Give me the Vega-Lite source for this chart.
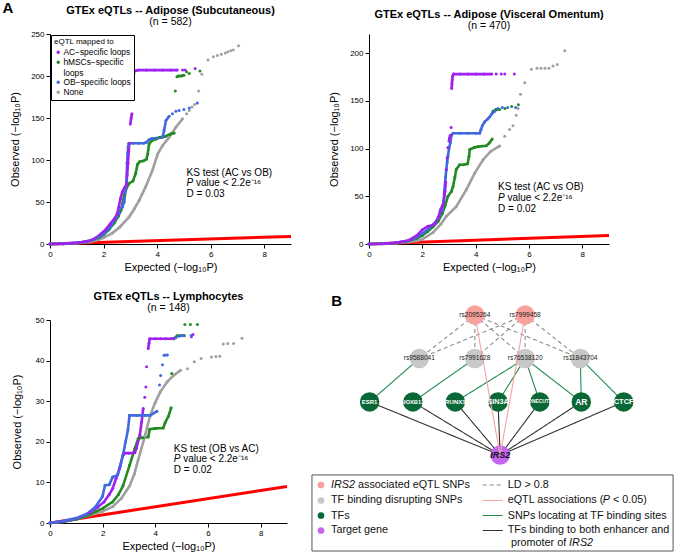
{
"$schema": "https://vega.github.io/schema/vega-lite/v6.json",
"background": "white",
"padding": {"left": 2, "top": 1, "right": 2, "bottom": 1},
"config": {
 "font": "Liberation Sans",
 "view": {"stroke": null},
 "axis": {"grid": false, "domainColor": "#000", "domainWidth": 1, "tickColor": "#000", "tickSize": 4, "labelColor": "#000", "labelFontSize": 8, "labelPadding": 2, "titleColor": "#000", "titleFontSize": 11, "titleFontWeight": "normal", "labelFlush": false},
 "title": {"fontSize": 11, "fontWeight": "bold", "color": "#000", "subtitleFontSize": 10.5, "subtitleColor": "#000", "anchor": "middle", "frame": "group", "offset": 3, "subtitlePadding": 1}
},
"datasets": {
 "p1": [
  {"g":"None","s":0,"x":0,"y":0},{"g":"None","s":0,"x":0.5,"y":0.3},{"g":"None","s":0,"x":1,"y":0.9},{"g":"None","s":0,"x":1.5,"y":2.5},{"g":"None","s":0,"x":1.8,"y":5},{"g":"None","s":0,"x":2,"y":7.5},{"g":"None","s":0,"x":2.33,"y":13},{"g":"None","s":0,"x":2.6,"y":20},{"g":"None","s":0,"x":2.95,"y":32},{"g":"None","s":0,"x":3.15,"y":42},{"g":"None","s":0,"x":3.33,"y":52},{"g":"None","s":0,"x":3.57,"y":68},{"g":"None","s":0,"x":3.83,"y":88},{"g":"None","s":0,"x":4.02,"y":107},{"g":"None","s":0,"x":4.2,"y":117},{"g":"None","s":0,"x":4.45,"y":127},{"g":"None","s":0,"x":4.7,"y":139},{"g":"None","s":0,"x":4.95,"y":149},
  {"g":"None","s":1,"x":5.1,"y":155},{"g":"None","s":2,"x":5.2,"y":159},{"g":"None","s":3,"x":5.3,"y":163},{"g":"None","s":4,"x":5.4,"y":166},{"g":"None","s":5,"x":5.55,"y":182},{"g":"None","s":6,"x":5.67,"y":202},{"g":"None","s":7,"x":5.9,"y":219},{"g":"None","s":8,"x":6.1,"y":223},{"g":"None","s":9,"x":6.25,"y":224.5},{"g":"None","s":10,"x":6.4,"y":226},{"g":"None","s":11,"x":6.55,"y":227.5},{"g":"None","s":12,"x":6.64,"y":229},{"g":"None","s":13,"x":6.75,"y":230},{"g":"None","s":14,"x":6.84,"y":231},{"g":"None","s":15,"x":7.04,"y":236},
  {"g":"hMSCs","s":0,"x":0,"y":0},{"g":"hMSCs","s":0,"x":0.5,"y":0.3},{"g":"hMSCs","s":0,"x":1,"y":1.1},{"g":"hMSCs","s":0,"x":1.5,"y":3.5},{"g":"hMSCs","s":0,"x":1.8,"y":7},{"g":"hMSCs","s":0,"x":2,"y":11},{"g":"hMSCs","s":0,"x":2.2,"y":17},{"g":"hMSCs","s":0,"x":2.4,"y":25},{"g":"hMSCs","s":0,"x":2.55,"y":33},{"g":"hMSCs","s":0,"x":2.65,"y":40},{"g":"hMSCs","s":0,"x":2.77,"y":58},{"g":"hMSCs","s":0,"x":2.85,"y":66},{"g":"hMSCs","s":0,"x":2.95,"y":72},{"g":"hMSCs","s":0,"x":3.1,"y":75},{"g":"hMSCs","s":0,"x":3.2,"y":84},{"g":"hMSCs","s":0,"x":3.27,"y":95},{"g":"hMSCs","s":0,"x":3.35,"y":98},{"g":"hMSCs","s":0,"x":3.5,"y":99},{"g":"hMSCs","s":0,"x":3.6,"y":101},{"g":"hMSCs","s":0,"x":3.65,"y":107},{"g":"hMSCs","s":0,"x":3.7,"y":119},{"g":"hMSCs","s":0,"x":3.8,"y":123},{"g":"hMSCs","s":0,"x":3.95,"y":125},{"g":"hMSCs","s":0,"x":4.1,"y":127},{"g":"hMSCs","s":0,"x":4.3,"y":128},{"g":"hMSCs","s":0,"x":4.5,"y":131},{"g":"hMSCs","s":0,"x":4.64,"y":132},
  {"g":"hMSCs","s":1,"x":4.68,"y":182},{"g":"hMSCs","s":2,"x":4.74,"y":199},{"g":"hMSCs","s":2,"x":4.8,"y":200},{"g":"hMSCs","s":2,"x":4.9,"y":200},{"g":"hMSCs","s":2,"x":5,"y":201},{"g":"hMSCs","s":3,"x":5.1,"y":205},{"g":"hMSCs","s":4,"x":5.2,"y":203},{"g":"hMSCs","s":5,"x":5.6,"y":206},
  {"g":"OB","s":0,"x":0,"y":0},{"g":"OB","s":0,"x":0.5,"y":0.4},{"g":"OB","s":0,"x":1,"y":1.3},{"g":"OB","s":0,"x":1.5,"y":4},{"g":"OB","s":0,"x":1.8,"y":8},{"g":"OB","s":0,"x":2,"y":12},{"g":"OB","s":0,"x":2.2,"y":18},{"g":"OB","s":0,"x":2.35,"y":25},{"g":"OB","s":0,"x":2.5,"y":32},{"g":"OB","s":0,"x":2.6,"y":38},{"g":"OB","s":0,"x":2.7,"y":44},{"g":"OB","s":0,"x":2.77,"y":50},{"g":"OB","s":0,"x":2.83,"y":66},{"g":"OB","s":0,"x":2.86,"y":76},{"g":"OB","s":0,"x":2.88,"y":96},{"g":"OB","s":0,"x":2.9,"y":108},{"g":"OB","s":0,"x":2.92,"y":116},{"g":"OB","s":0,"x":2.95,"y":120},{"g":"OB","s":0,"x":3.1,"y":120},{"g":"OB","s":0,"x":3.3,"y":120},{"g":"OB","s":0,"x":3.5,"y":120},{"g":"OB","s":0,"x":3.6,"y":121},{"g":"OB","s":0,"x":3.7,"y":124},{"g":"OB","s":0,"x":3.8,"y":125.5},{"g":"OB","s":0,"x":4,"y":126},{"g":"OB","s":0,"x":4.2,"y":127},{"g":"OB","s":0,"x":4.26,"y":135},{"g":"OB","s":0,"x":4.33,"y":147},{"g":"OB","s":0,"x":4.45,"y":152},
  {"g":"OB","s":1,"x":4.57,"y":155},{"g":"OB","s":2,"x":4.7,"y":158},{"g":"OB","s":3,"x":4.82,"y":159},{"g":"OB","s":4,"x":5,"y":160},{"g":"OB","s":5,"x":5.2,"y":162},{"g":"OB","s":6,"x":5.5,"y":168},
  {"g":"AC","s":0,"x":0,"y":0},{"g":"AC","s":0,"x":0.5,"y":0.4},{"g":"AC","s":0,"x":1,"y":1.3},{"g":"AC","s":0,"x":1.3,"y":2.6},{"g":"AC","s":0,"x":1.5,"y":4},{"g":"AC","s":0,"x":1.7,"y":7},{"g":"AC","s":0,"x":1.9,"y":12},{"g":"AC","s":0,"x":2.1,"y":18},{"g":"AC","s":0,"x":2.25,"y":24},{"g":"AC","s":0,"x":2.4,"y":30},{"g":"AC","s":0,"x":2.5,"y":35},{"g":"AC","s":0,"x":2.57,"y":44},{"g":"AC","s":0,"x":2.63,"y":54},{"g":"AC","s":0,"x":2.7,"y":62},{"g":"AC","s":0,"x":2.78,"y":67},{"g":"AC","s":0,"x":2.85,"y":70},{"g":"AC","s":0,"x":2.88,"y":82},{"g":"AC","s":0,"x":2.91,"y":96},{"g":"AC","s":0,"x":2.94,"y":110},{"g":"AC","s":0,"x":2.96,"y":120},
  {"g":"AC","s":1,"x":3,"y":143},{"g":"AC","s":1,"x":3.03,"y":150},{"g":"AC","s":1,"x":3.06,"y":155},
  {"g":"AC","s":2,"x":3.1,"y":193},{"g":"AC","s":2,"x":3.12,"y":200},{"g":"AC","s":2,"x":3.15,"y":206},{"g":"AC","s":2,"x":3.3,"y":207},{"g":"AC","s":2,"x":3.6,"y":207},{"g":"AC","s":2,"x":3.9,"y":207},{"g":"AC","s":2,"x":4.2,"y":207},{"g":"AC","s":2,"x":4.5,"y":207},{"g":"AC","s":2,"x":4.75,"y":207},
  {"g":"AC","s":3,"x":4.95,"y":207},{"g":"AC","s":4,"x":5.05,"y":207},{"g":"AC","s":5,"x":5.42,"y":209}
 ],
 "p2": [
  {"g":"None","s":0,"x":0,"y":0},{"g":"None","s":0,"x":0.5,"y":0.2},{"g":"None","s":0,"x":1,"y":0.8},{"g":"None","s":0,"x":1.5,"y":2.2},{"g":"None","s":0,"x":1.8,"y":3.5},{"g":"None","s":0,"x":2,"y":5},{"g":"None","s":0,"x":2.4,"y":12},{"g":"None","s":0,"x":2.7,"y":21},{"g":"None","s":0,"x":2.9,"y":29},{"g":"None","s":0,"x":3.27,"y":39},{"g":"None","s":0,"x":3.65,"y":57},{"g":"None","s":0,"x":3.96,"y":74},{"g":"None","s":0,"x":4.27,"y":88},{"g":"None","s":0,"x":4.56,"y":97},{"g":"None","s":0,"x":4.9,"y":102.7},
  {"g":"None","s":1,"x":5.09,"y":113},{"g":"None","s":2,"x":5.27,"y":120},{"g":"None","s":3,"x":5.4,"y":124},{"g":"None","s":4,"x":5.52,"y":135},{"g":"None","s":5,"x":5.59,"y":142},{"g":"None","s":6,"x":5.68,"y":157},{"g":"None","s":7,"x":5.84,"y":169},{"g":"None","s":8,"x":6.09,"y":183},{"g":"None","s":9,"x":6.3,"y":184},{"g":"None","s":10,"x":6.45,"y":184},{"g":"None","s":11,"x":6.6,"y":184},{"g":"None","s":12,"x":6.75,"y":184},{"g":"None","s":13,"x":6.9,"y":186.5},{"g":"None","s":14,"x":7.06,"y":188},{"g":"None","s":15,"x":7.34,"y":202.5},
  {"g":"hMSCs","s":0,"x":0,"y":0},{"g":"hMSCs","s":0,"x":0.5,"y":0.3},{"g":"hMSCs","s":0,"x":1,"y":1.1},{"g":"hMSCs","s":0,"x":1.5,"y":3.3},{"g":"hMSCs","s":0,"x":1.8,"y":6},{"g":"hMSCs","s":0,"x":2,"y":9},{"g":"hMSCs","s":0,"x":2.2,"y":13},{"g":"hMSCs","s":0,"x":2.4,"y":18},{"g":"hMSCs","s":0,"x":2.6,"y":24},{"g":"hMSCs","s":0,"x":2.75,"y":32},{"g":"hMSCs","s":0,"x":2.85,"y":40},{"g":"hMSCs","s":0,"x":2.96,"y":50},{"g":"hMSCs","s":0,"x":3.09,"y":55},{"g":"hMSCs","s":0,"x":3.15,"y":60},{"g":"hMSCs","s":0,"x":3.22,"y":70},{"g":"hMSCs","s":0,"x":3.27,"y":78},{"g":"hMSCs","s":0,"x":3.4,"y":83},{"g":"hMSCs","s":0,"x":3.55,"y":83},{"g":"hMSCs","s":0,"x":3.7,"y":84},{"g":"hMSCs","s":0,"x":3.75,"y":92},{"g":"hMSCs","s":0,"x":3.78,"y":99},{"g":"hMSCs","s":0,"x":3.95,"y":101},{"g":"hMSCs","s":0,"x":4.09,"y":102},{"g":"hMSCs","s":0,"x":4.4,"y":103},{"g":"hMSCs","s":0,"x":4.52,"y":106},{"g":"hMSCs","s":0,"x":4.62,"y":110},
  {"g":"hMSCs","s":1,"x":4.65,"y":139},{"g":"hMSCs","s":1,"x":4.77,"y":141},{"g":"hMSCs","s":1,"x":4.9,"y":141},{"g":"hMSCs","s":2,"x":5.1,"y":142},{"g":"hMSCs","s":3,"x":5.35,"y":144},{"g":"hMSCs","s":4,"x":5.6,"y":146},
  {"g":"OB","s":0,"x":0,"y":0},{"g":"OB","s":0,"x":0.5,"y":0.3},{"g":"OB","s":0,"x":1,"y":1.2},{"g":"OB","s":0,"x":1.5,"y":3.5},{"g":"OB","s":0,"x":1.8,"y":7},{"g":"OB","s":0,"x":2,"y":11},{"g":"OB","s":0,"x":2.2,"y":15},{"g":"OB","s":0,"x":2.4,"y":20},{"g":"OB","s":0,"x":2.6,"y":27},{"g":"OB","s":0,"x":2.75,"y":35},{"g":"OB","s":0,"x":2.8,"y":45},{"g":"OB","s":0,"x":2.83,"y":57},{"g":"OB","s":0,"x":2.87,"y":70},{"g":"OB","s":0,"x":2.9,"y":78},{"g":"OB","s":0,"x":2.93,"y":86},{"g":"OB","s":0,"x":2.96,"y":92},{"g":"OB","s":0,"x":3,"y":100},{"g":"OB","s":0,"x":3.05,"y":106},{"g":"OB","s":0,"x":3.09,"y":114},{"g":"OB","s":0,"x":3.15,"y":116},{"g":"OB","s":0,"x":3.4,"y":116},{"g":"OB","s":0,"x":3.7,"y":116},{"g":"OB","s":0,"x":4,"y":116},{"g":"OB","s":0,"x":4.15,"y":116},{"g":"OB","s":0,"x":4.2,"y":120},{"g":"OB","s":0,"x":4.25,"y":124},{"g":"OB","s":0,"x":4.34,"y":128},{"g":"OB","s":0,"x":4.45,"y":131},{"g":"OB","s":0,"x":4.52,"y":133},{"g":"OB","s":0,"x":4.62,"y":137},{"g":"OB","s":0,"x":4.71,"y":139},{"g":"OB","s":0,"x":4.84,"y":142},
  {"g":"OB","s":1,"x":5,"y":143},{"g":"OB","s":2,"x":5.2,"y":143},{"g":"OB","s":3,"x":5.5,"y":143},
  {"g":"AC","s":0,"x":0,"y":0},{"g":"AC","s":0,"x":0.5,"y":0.3},{"g":"AC","s":0,"x":1,"y":1.2},{"g":"AC","s":0,"x":1.5,"y":4},{"g":"AC","s":0,"x":1.8,"y":9},{"g":"AC","s":0,"x":2,"y":15},{"g":"AC","s":0,"x":2.2,"y":18.5},{"g":"AC","s":0,"x":2.4,"y":20},{"g":"AC","s":0,"x":2.5,"y":22},{"g":"AC","s":0,"x":2.6,"y":28},{"g":"AC","s":0,"x":2.68,"y":36},{"g":"AC","s":0,"x":2.75,"y":40},{"g":"AC","s":0,"x":2.8,"y":44},{"g":"AC","s":0,"x":2.85,"y":55},{"g":"AC","s":0,"x":2.88,"y":65},
  {"g":"AC","s":1,"x":2.9,"y":78},{"g":"AC","s":2,"x":2.93,"y":90},{"g":"AC","s":3,"x":2.96,"y":101},{"g":"AC","s":4,"x":3,"y":108},{"g":"AC","s":4,"x":3.02,"y":111},{"g":"AC","s":4,"x":3.05,"y":114},{"g":"AC","s":5,"x":3.08,"y":122},
  {"g":"AC","s":6,"x":3.1,"y":163},{"g":"AC","s":6,"x":3.11,"y":168},{"g":"AC","s":6,"x":3.12,"y":172},{"g":"AC","s":6,"x":3.14,"y":176},{"g":"AC","s":6,"x":3.17,"y":178},{"g":"AC","s":6,"x":3.4,"y":178},{"g":"AC","s":6,"x":3.7,"y":178},{"g":"AC","s":6,"x":4,"y":178},{"g":"AC","s":6,"x":4.3,"y":178},{"g":"AC","s":6,"x":4.6,"y":178},
  {"g":"AC","s":7,"x":4.77,"y":178},{"g":"AC","s":8,"x":4.96,"y":178},{"g":"AC","s":9,"x":5.09,"y":178},{"g":"AC","s":10,"x":5.45,"y":178}
 ],
 "p3": [
  {"g":"None","s":0,"x":0,"y":0},{"g":"None","s":0,"x":0.5,"y":0.3},{"g":"None","s":0,"x":1,"y":0.9},{"g":"None","s":0,"x":1.5,"y":1.9},{"g":"None","s":0,"x":2,"y":2.9},{"g":"None","s":0,"x":2.38,"y":4},{"g":"None","s":0,"x":2.7,"y":6},{"g":"None","s":0,"x":3.02,"y":9.1},{"g":"None","s":0,"x":3.2,"y":12},{"g":"None","s":0,"x":3.35,"y":15.6},{"g":"None","s":0,"x":3.6,"y":21.3},{"g":"None","s":0,"x":3.8,"y":26.4},{"g":"None","s":0,"x":3.99,"y":29.6},{"g":"None","s":0,"x":4.19,"y":32.3},{"g":"None","s":0,"x":4.45,"y":34.8},{"g":"None","s":0,"x":4.7,"y":36.4},{"g":"None","s":0,"x":4.96,"y":37.6},
  {"g":"None","s":1,"x":5.22,"y":38},{"g":"None","s":2,"x":5.48,"y":39.7},{"g":"None","s":3,"x":5.74,"y":40.5},{"g":"None","s":4,"x":6.13,"y":40.9},{"g":"None","s":5,"x":6.3,"y":41},{"g":"None","s":6,"x":6.45,"y":41.1},{"g":"None","s":7,"x":6.58,"y":44.1},{"g":"None","s":8,"x":6.75,"y":44.2},{"g":"None","s":9,"x":6.97,"y":44.2},{"g":"None","s":10,"x":7.29,"y":45.5},
  {"g":"hMSCs","s":0,"x":0,"y":0},{"g":"hMSCs","s":0,"x":0.5,"y":0.3},{"g":"hMSCs","s":0,"x":1,"y":0.9},{"g":"hMSCs","s":0,"x":1.5,"y":2},{"g":"hMSCs","s":0,"x":1.73,"y":2.8},{"g":"hMSCs","s":0,"x":2,"y":3.6},{"g":"hMSCs","s":0,"x":2.38,"y":5.2},{"g":"hMSCs","s":0,"x":2.6,"y":7},{"g":"hMSCs","s":0,"x":2.77,"y":9.1},{"g":"hMSCs","s":0,"x":3.02,"y":14.2},{"g":"hMSCs","s":0,"x":3.22,"y":18.3},{"g":"hMSCs","s":0,"x":3.35,"y":20.8},{"g":"hMSCs","s":0,"x":3.5,"y":21},{"g":"hMSCs","s":0,"x":3.73,"y":21.2},{"g":"hMSCs","s":0,"x":3.79,"y":23.1},{"g":"hMSCs","s":0,"x":4,"y":23.3},{"g":"hMSCs","s":0,"x":4.3,"y":23.4},{"g":"hMSCs","s":0,"x":4.37,"y":24.7},{"g":"hMSCs","s":0,"x":4.5,"y":26.3},{"g":"hMSCs","s":0,"x":4.6,"y":28.4},
  {"g":"hMSCs","s":1,"x":4.62,"y":36.8},{"g":"hMSCs","s":2,"x":4.7,"y":45.4},{"g":"hMSCs","s":2,"x":4.83,"y":46.1},{"g":"hMSCs","s":2,"x":5,"y":46.2},{"g":"hMSCs","s":2,"x":5.09,"y":46.2},{"g":"hMSCs","s":3,"x":5.12,"y":48.9},{"g":"hMSCs","s":4,"x":5.33,"y":48.9},{"g":"hMSCs","s":5,"x":5.6,"y":48.9},
  {"g":"AC","s":0,"x":0,"y":0},{"g":"AC","s":0,"x":0.5,"y":0.4},{"g":"AC","s":0,"x":1,"y":1.1},{"g":"AC","s":0,"x":1.5,"y":2.5},{"g":"AC","s":0,"x":1.8,"y":3.8},{"g":"AC","s":0,"x":2.05,"y":5.2},{"g":"AC","s":0,"x":2.25,"y":7},{"g":"AC","s":0,"x":2.38,"y":8.5},{"g":"AC","s":0,"x":2.51,"y":11},{"g":"AC","s":0,"x":2.64,"y":13.4},{"g":"AC","s":0,"x":2.77,"y":16.7},{"g":"AC","s":0,"x":2.85,"y":17.2},{"g":"AC","s":0,"x":3,"y":17.2},{"g":"AC","s":0,"x":3.22,"y":17.3},{"g":"AC","s":0,"x":3.28,"y":18.4},{"g":"AC","s":0,"x":3.41,"y":21.6},{"g":"AC","s":0,"x":3.48,"y":24.9},{"g":"AC","s":0,"x":3.54,"y":28.2},
  {"g":"AC","s":1,"x":3.6,"y":31},{"g":"AC","s":2,"x":3.64,"y":33.5},{"g":"AC","s":3,"x":3.67,"y":38.5},{"g":"AC","s":4,"x":3.73,"y":43},{"g":"AC","s":4,"x":3.76,"y":44.3},{"g":"AC","s":4,"x":3.79,"y":45.4},{"g":"AC","s":4,"x":4,"y":45.4},{"g":"AC","s":4,"x":4.2,"y":45.4},{"g":"AC","s":4,"x":4.4,"y":45.4},{"g":"AC","s":4,"x":4.6,"y":45.4},{"g":"AC","s":4,"x":4.72,"y":45.5},{"g":"AC","s":5,"x":5.37,"y":45.9},{"g":"AC","s":6,"x":5.43,"y":46.4},
  {"g":"OB","s":0,"x":0,"y":0},{"g":"OB","s":0,"x":0.5,"y":0.5},{"g":"OB","s":0,"x":1,"y":1.2},{"g":"OB","s":0,"x":1.4,"y":2.2},{"g":"OB","s":0,"x":1.73,"y":4},{"g":"OB","s":0,"x":1.99,"y":6.5},{"g":"OB","s":0,"x":2.09,"y":9.3},{"g":"OB","s":0,"x":2.25,"y":9.4},{"g":"OB","s":0,"x":2.38,"y":11.3},{"g":"OB","s":0,"x":2.57,"y":11.8},{"g":"OB","s":0,"x":2.66,"y":13.9},{"g":"OB","s":0,"x":2.77,"y":16.7},{"g":"OB","s":0,"x":2.87,"y":20},{"g":"OB","s":0,"x":2.96,"y":22.9},{"g":"OB","s":0,"x":3.02,"y":26.5},{"g":"OB","s":0,"x":3.3,"y":26.5},{"g":"OB","s":0,"x":3.6,"y":26.5},{"g":"OB","s":0,"x":3.8,"y":26.5},{"g":"OB","s":0,"x":4.06,"y":27.5},
  {"g":"OB","s":1,"x":4.16,"y":34},{"g":"OB","s":2,"x":4.2,"y":36.3},{"g":"OB","s":3,"x":4.27,"y":39},{"g":"OB","s":4,"x":4.33,"y":41.3},{"g":"OB","s":4,"x":4.46,"y":41.4},{"g":"OB","s":5,"x":4.78,"y":45.6},{"g":"OB","s":6,"x":4.9,"y":46},{"g":"OB","s":7,"x":5,"y":46.1},{"g":"OB","s":8,"x":5.1,"y":46.1},{"g":"OB","s":9,"x":5.36,"y":46.2}
 ],
 "nodes": [
  {"id":"rs2095264","type":"eqtl","x":34.7,"y":6},
  {"id":"rs7999458","type":"eqtl","x":51.2,"y":6},
  {"id":"rs9588041","type":"tfsnp","x":16.5,"y":23.3},
  {"id":"rs7991628","type":"tfsnp","x":34.7,"y":23.3},
  {"id":"rs76538120","type":"tfsnp","x":51.2,"y":23.3},
  {"id":"rs11843704","type":"tfsnp","x":69.3,"y":23.3},
  {"id":"ESR1","type":"tf","x":0.2,"y":40.6},
  {"id":"HOXB13","type":"tf","x":14.4,"y":40.6},
  {"id":"RUNX1","type":"tf","x":28.3,"y":40.6},
  {"id":"SIN3A","type":"tf","x":42.3,"y":40.6},
  {"id":"ONECUT2","type":"tf","x":56,"y":40.6},
  {"id":"AR","type":"tf","x":69.6,"y":40.6},
  {"id":"CTCF","type":"tf","x":83.5,"y":40.6},
  {"id":"IRS2","type":"gene","x":43,"y":61.8}
 ],
 "edges": [
  {"s":"rs2095264","t":"rs9588041","k":"ld"},{"s":"rs2095264","t":"rs7991628","k":"ld"},{"s":"rs2095264","t":"rs76538120","k":"ld"},{"s":"rs2095264","t":"rs11843704","k":"ld"},
  {"s":"rs7999458","t":"rs9588041","k":"ld"},{"s":"rs7999458","t":"rs7991628","k":"ld"},{"s":"rs7999458","t":"rs76538120","k":"ld"},{"s":"rs7999458","t":"rs11843704","k":"ld"},
  {"s":"rs9588041","t":"ESR1","k":"tfbs"},{"s":"rs7991628","t":"HOXB13","k":"tfbs"},{"s":"rs76538120","t":"RUNX1","k":"tfbs"},{"s":"rs76538120","t":"SIN3A","k":"tfbs"},{"s":"rs76538120","t":"ONECUT2","k":"tfbs"},{"s":"rs76538120","t":"AR","k":"tfbs"},{"s":"rs11843704","t":"AR","k":"tfbs"},{"s":"rs11843704","t":"CTCF","k":"tfbs"},
  {"s":"ESR1","t":"IRS2","k":"tf"},{"s":"HOXB13","t":"IRS2","k":"tf"},{"s":"RUNX1","t":"IRS2","k":"tf"},{"s":"SIN3A","t":"IRS2","k":"tf"},{"s":"ONECUT2","t":"IRS2","k":"tf"},{"s":"AR","t":"IRS2","k":"tf"},{"s":"CTCF","t":"IRS2","k":"tf"},
  {"s":"rs2095264","t":"IRS2","k":"eqtl"},{"s":"rs7999458","t":"IRS2","k":"eqtl"}
 ]
},
"hconcat": [
 {
  "vconcat": [
   {
    "width": 241, "height": 210,
    "title": {"text": "GTEx eQTLs -- Adipose (Subcutaneous)", "subtitle": "(n = 582)"},
    "layer": [
     {"data": {"values": [{"x":0,"y":0},{"x":9,"y":9}]}, "mark": {"type":"line","color":"#FF0000","strokeWidth":3},
      "encoding": {"x": {"field":"x","type":"quantitative","scale":{"domain":[0,9],"nice":false},"axis":{"values":[0,2,4,6,8],"title":"Expected (−log₁₀P)","titlePadding":3}},
                   "y": {"field":"y","type":"quantitative","scale":{"domain":[0,250],"nice":false},"axis":{"values":[0,50,100,150,200,250],"title":"Observed (−log₁₀P)","titlePadding":10}}}},
     {"data": {"name":"p1"}, "mark": {"type":"line","strokeWidth":2.6},
      "encoding": {"x": {"field":"x","type":"quantitative","scale":{"domain":[0,9],"nice":false}},
                   "y": {"field":"y","type":"quantitative","scale":{"domain":[0,250],"nice":false}},
                   "color": {"field":"g","type":"nominal","scale":{"domain":["AC","hMSCs","OB","None"],"range":["#A020F0","#228B22","#4169E1","#A0A0A0"]},
                     "legend": {"orient":"top-left","offset":1,"title":"eQTL mapped to","titleFontSize":8,"titleFontWeight":"normal","titleColor":"#000","titlePadding":2,"labelFontSize":8.4,"labelColor":"#000","labelOffset":1,"labelLimit":200,"symbolType":"circle","symbolSize":12,"symbolStrokeWidth":0,"strokeColor":"#000","fillColor":"white","padding":3,"rowPadding":1,
                       "labelExpr":"datum.label=='AC'?'AC−specific loops':datum.label=='hMSCs'?['hMSCs−specific','loops']:datum.label=='OB'?'OB−specific loops':'None'"}},
                   "detail": {"field":"s","type":"nominal"}}},
     {"data": {"name":"p1"}, "mark": {"type":"point","filled":true,"size":9,"opacity":1},
      "encoding": {"x": {"field":"x","type":"quantitative","scale":{"domain":[0,9],"nice":false}},
                   "y": {"field":"y","type":"quantitative","scale":{"domain":[0,250],"nice":false}},
                   "color": {"field":"g","type":"nominal","scale":{"domain":["AC","hMSCs","OB","None"],"range":["#A020F0","#228B22","#4169E1","#A0A0A0"]},
                     "legend": {"orient":"top-left","offset":1,"title":"eQTL mapped to","titleFontSize":8,"titleFontWeight":"normal","titleColor":"#000","titlePadding":2,"labelFontSize":8.4,"labelColor":"#000","labelOffset":1,"labelLimit":200,"symbolType":"circle","symbolSize":12,"symbolStrokeWidth":0,"strokeColor":"#000","fillColor":"white","padding":3,"rowPadding":1,
                       "labelExpr":"datum.label=='AC'?'AC−specific loops':datum.label=='hMSCs'?['hMSCs−specific','loops']:datum.label=='OB'?'OB−specific loops':'None'"}}}},
     {"data": {"values": [{"t":"KS test (AC vs OB)","x":5.1,"y":84.4},{"t":"D = 0.03","x":5.1,"y":59.5}]},
      "mark": {"type":"text","align":"left","baseline":"middle","fontSize":10,"color":"#000"},
      "encoding": {"x":{"field":"x","type":"quantitative","scale":{"domain":[0,9],"nice":false}},"y":{"field":"y","type":"quantitative","scale":{"domain":[0,250],"nice":false}},"text":{"field":"t"}}},
     {"data": {"values": [{"t":"P","x":5.1,"y":72.1}]},
      "mark": {"type":"text","align":"left","baseline":"middle","fontSize":10,"fontStyle":"italic","color":"#000"},
      "encoding": {"x":{"field":"x","type":"quantitative","scale":{"domain":[0,9],"nice":false}},"y":{"field":"y","type":"quantitative","scale":{"domain":[0,250],"nice":false}},"text":{"field":"t"}}},
     {"data": {"values": [{"t":"value < 2.2e⁻¹⁶","x":5.1,"y":72.1}]},
      "mark": {"type":"text","align":"left","baseline":"middle","fontSize":10,"dx":9.4,"color":"#000"},
      "encoding": {"x":{"field":"x","type":"quantitative","scale":{"domain":[0,9],"nice":false}},"y":{"field":"y","type":"quantitative","scale":{"domain":[0,250],"nice":false}},"text":{"field":"t"}}}
    ]
   },
   {
    "width": 237, "height": 203,
    "title": {"text": "GTEx eQTLs -- Lymphocytes", "subtitle": "(n = 148)"},
    "layer": [
     {"data": {"values": [{"x":0,"y":0},{"x":9,"y":9}]}, "mark": {"type":"line","color":"#FF0000","strokeWidth":3},
      "encoding": {"x": {"field":"x","type":"quantitative","scale":{"domain":[0,9],"nice":false},"axis":{"values":[0,2,4,6,8],"title":"Expected (−log₁₀P)","titlePadding":3}},
                   "y": {"field":"y","type":"quantitative","scale":{"domain":[0,50],"nice":false},"axis":{"values":[0,10,20,30,40,50],"title":"Observed (−log₁₀P)","titlePadding":13}}}},
     {"data": {"name":"p3"}, "mark": {"type":"line","strokeWidth":2.6},
      "encoding": {"x": {"field":"x","type":"quantitative","scale":{"domain":[0,9],"nice":false}},
                   "y": {"field":"y","type":"quantitative","scale":{"domain":[0,50],"nice":false}},
                   "color": {"field":"g","type":"nominal","scale":{"domain":["AC","hMSCs","OB","None"],"range":["#A020F0","#228B22","#4169E1","#A0A0A0"]},"legend":null},
                   "detail": {"field":"s","type":"nominal"}}},
     {"data": {"name":"p3"}, "mark": {"type":"point","filled":true,"size":9,"opacity":1},
      "encoding": {"x": {"field":"x","type":"quantitative","scale":{"domain":[0,9],"nice":false}},
                   "y": {"field":"y","type":"quantitative","scale":{"domain":[0,50],"nice":false}},
                   "color": {"field":"g","type":"nominal","scale":{"domain":["AC","hMSCs","OB","None"],"range":["#A020F0","#228B22","#4169E1","#A0A0A0"]},"legend":null}}},
     {"data": {"values": [{"t":"KS test (OB vs AC)","x":4.7,"y":18.2},{"t":"D = 0.02","x":4.7,"y":13.0}]},
      "mark": {"type":"text","align":"left","baseline":"middle","fontSize":10,"color":"#000"},
      "encoding": {"x":{"field":"x","type":"quantitative","scale":{"domain":[0,9],"nice":false}},"y":{"field":"y","type":"quantitative","scale":{"domain":[0,50],"nice":false}},"text":{"field":"t"}}},
     {"data": {"values": [{"t":"P","x":4.7,"y":15.7}]},
      "mark": {"type":"text","align":"left","baseline":"middle","fontSize":10,"fontStyle":"italic","color":"#000"},
      "encoding": {"x":{"field":"x","type":"quantitative","scale":{"domain":[0,9],"nice":false}},"y":{"field":"y","type":"quantitative","scale":{"domain":[0,50],"nice":false}},"text":{"field":"t"}}},
     {"data": {"values": [{"t":"value < 2.2e⁻¹⁶","x":4.7,"y":15.7}]},
      "mark": {"type":"text","align":"left","baseline":"middle","fontSize":10,"dx":9.4,"color":"#000"},
      "encoding": {"x":{"field":"x","type":"quantitative","scale":{"domain":[0,9],"nice":false}},"y":{"field":"y","type":"quantitative","scale":{"domain":[0,50],"nice":false}},"text":{"field":"t"}}}
    ]
   }
  ],
  "spacing": 76, "bounds": "flush",
  "resolve": {"scale": {"color": "independent"}}
 },
 {
  "vconcat": [
   {
    "width": 240, "height": 210,
    "title": {"text": "GTEx eQTLs -- Adipose (Visceral Omentum)", "subtitle": "(n = 470)"},
    "layer": [
     {"data": {"values": [{"x":0,"y":0},{"x":9,"y":9}]}, "mark": {"type":"line","color":"#FF0000","strokeWidth":3},
      "encoding": {"x": {"field":"x","type":"quantitative","scale":{"domain":[0,9],"nice":false},"axis":{"values":[0,2,4,6,8],"title":"Expected (−log₁₀P)","titlePadding":3}},
                   "y": {"field":"y","type":"quantitative","scale":{"domain":[0,220],"nice":false},"axis":{"values":[0,50,100,150,200],"title":"Observed (−log₁₀P)","titlePadding":10}}}},
     {"data": {"name":"p2"}, "mark": {"type":"line","strokeWidth":2.6},
      "encoding": {"x": {"field":"x","type":"quantitative","scale":{"domain":[0,9],"nice":false}},
                   "y": {"field":"y","type":"quantitative","scale":{"domain":[0,220],"nice":false}},
                   "color": {"field":"g","type":"nominal","scale":{"domain":["AC","hMSCs","OB","None"],"range":["#A020F0","#228B22","#4169E1","#A0A0A0"]},"legend":null},
                   "detail": {"field":"s","type":"nominal"}}},
     {"data": {"name":"p2"}, "mark": {"type":"point","filled":true,"size":9,"opacity":1},
      "encoding": {"x": {"field":"x","type":"quantitative","scale":{"domain":[0,9],"nice":false}},
                   "y": {"field":"y","type":"quantitative","scale":{"domain":[0,220],"nice":false}},
                   "color": {"field":"g","type":"nominal","scale":{"domain":["AC","hMSCs","OB","None"],"range":["#A020F0","#228B22","#4169E1","#A0A0A0"]},"legend":null}}},
     {"data": {"values": [{"t":"KS test (AC vs OB)","x":4.84,"y":60.0},{"t":"D = 0.02","x":4.84,"y":36.7}]},
      "mark": {"type":"text","align":"left","baseline":"middle","fontSize":10,"color":"#000"},
      "encoding": {"x":{"field":"x","type":"quantitative","scale":{"domain":[0,9],"nice":false}},"y":{"field":"y","type":"quantitative","scale":{"domain":[0,220],"nice":false}},"text":{"field":"t"}}},
     {"data": {"values": [{"t":"P","x":4.84,"y":48.5}]},
      "mark": {"type":"text","align":"left","baseline":"middle","fontSize":10,"fontStyle":"italic","color":"#000"},
      "encoding": {"x":{"field":"x","type":"quantitative","scale":{"domain":[0,9],"nice":false}},"y":{"field":"y","type":"quantitative","scale":{"domain":[0,220],"nice":false}},"text":{"field":"t"}}},
     {"data": {"values": [{"t":"value < 2.2e⁻¹⁶","x":4.84,"y":48.5}]},
      "mark": {"type":"text","align":"left","baseline":"middle","fontSize":10,"dx":9.4,"color":"#000"},
      "encoding": {"x":{"field":"x","type":"quantitative","scale":{"domain":[0,9],"nice":false}},"y":{"field":"y","type":"quantitative","scale":{"domain":[0,220],"nice":false}},"text":{"field":"t"}}}
    ]
   },
   {
    "width": 305, "height": 251,
    "layer": [
     {"data": {"values": [{}]}, "mark": {"type":"rect","fill":"transparent","stroke":"#555","strokeWidth":1},
      "encoding": {"x":{"datum":-18.7,"scale":{"domain":[0,100],"nice":false,"zero":false},"axis":null},"x2":{"datum":99.7},
                   "y":{"datum":69.7,"scale":{"domain":[0,100],"nice":false,"zero":false,"reverse":true},"axis":null},"y2":{"datum":100}}},
     {"data": {"name":"edges"},
      "transform": [{"filter":"datum.k != 'eqtl'"},
        {"lookup":"s","from":{"data":{"name":"nodes"},"key":"id","fields":["x","y"]},"as":["sx","sy"]},
        {"lookup":"t","from":{"data":{"name":"nodes"},"key":"id","fields":["x","y"]},"as":["tx","ty"]}],
      "mark": {"type":"rule","strokeWidth":1.1},
      "encoding": {"x":{"field":"sx","type":"quantitative","scale":{"domain":[0,100],"nice":false,"zero":false},"axis":null},
                   "y":{"field":"sy","type":"quantitative","scale":{"domain":[0,100],"nice":false,"zero":false,"reverse":true},"axis":null},
                   "x2":{"field":"tx"},"y2":{"field":"ty"},
                   "stroke":{"field":"k","type":"nominal","scale":{"domain":["ld","eqtl","tfbs","tf"],"range":["#8C8C8C","#F4A3A3","#238B4E","#333333"]},"legend":null},
                   "strokeDash":{"field":"k","type":"nominal","scale":{"domain":["ld","eqtl","tfbs","tf"],"range":[[4,3],[1,0],[1,0],[1,0]]},"legend":null}}},
     {"data": {"name":"nodes"}, "mark": {"type":"circle","size":380,"opacity":1},
      "encoding": {"x":{"field":"x","type":"quantitative","scale":{"domain":[0,100],"nice":false,"zero":false},"axis":null},
                   "y":{"field":"y","type":"quantitative","scale":{"domain":[0,100],"nice":false,"zero":false,"reverse":true},"axis":null},
                   "fill":{"field":"type","type":"nominal","scale":{"domain":["eqtl","tfsnp","tf","gene"],"range":["#F8A09C","#C8C8C8","#0A6836","#C466F2"]},"legend":null}}},
     {"data": {"name":"edges"},
      "transform": [{"filter":"datum.k == 'eqtl'"},
        {"lookup":"s","from":{"data":{"name":"nodes"},"key":"id","fields":["x","y"]},"as":["sx","sy"]},
        {"lookup":"t","from":{"data":{"name":"nodes"},"key":"id","fields":["x","y"]},"as":["tx","ty"]}],
      "mark": {"type":"rule","strokeWidth":1.1},
      "encoding": {"x":{"field":"sx","type":"quantitative","scale":{"domain":[0,100],"nice":false,"zero":false},"axis":null},
                   "y":{"field":"sy","type":"quantitative","scale":{"domain":[0,100],"nice":false,"zero":false,"reverse":true},"axis":null},
                   "x2":{"field":"tx"},"y2":{"field":"ty"},
                   "stroke":{"field":"k","type":"nominal","scale":{"domain":["ld","eqtl","tfbs","tf"],"range":["#8C8C8C","#F4A3A3","#238B4E","#333333"]},"legend":null},
                   "strokeDash":{"field":"k","type":"nominal","scale":{"domain":["ld","eqtl","tfbs","tf"],"range":[[4,3],[1,0],[1,0],[1,0]]},"legend":null}}},
     {"data": {"name":"nodes"}, "transform": [{"filter":"datum.type == 'eqtl' || datum.type == 'tfsnp'"}],
      "mark": {"type":"text","fontSize":6.6,"color":"#222","baseline":"middle"},
      "encoding": {"x":{"field":"x","type":"quantitative","scale":{"domain":[0,100],"nice":false,"zero":false},"axis":null},
                   "y":{"field":"y","type":"quantitative","scale":{"domain":[0,100],"nice":false,"zero":false,"reverse":true},"axis":null},
                   "text":{"field":"id"}}},
     {"data": {"name":"nodes"}, "transform": [{"filter":"datum.type == 'tf'"}],
      "mark": {"type":"text","fontWeight":"bold","color":"white","baseline":"middle"},
      "encoding": {"x":{"field":"x","type":"quantitative","scale":{"domain":[0,100],"nice":false,"zero":false},"axis":null},
                   "y":{"field":"y","type":"quantitative","scale":{"domain":[0,100],"nice":false,"zero":false,"reverse":true},"axis":null},
                   "size":{"field":"id","type":"ordinal","scale":{"type":"ordinal","domain":["ESR1","HOXB13","RUNX1","SIN3A","ONECUT2","AR","CTCF"],"range":[6,5.7,6.2,7.2,4.9,8.5,7.5]},"legend":null},
                   "text":{"field":"id"}}},
     {"data": {"name":"nodes"}, "transform": [{"filter":"datum.type == 'gene'"}],
      "mark": {"type":"text","fontSize":9,"fontWeight":"bold","fontStyle":"italic","color":"#111","baseline":"middle"},
      "encoding": {"x":{"field":"x","type":"quantitative","scale":{"domain":[0,100],"nice":false,"zero":false},"axis":null},
                   "y":{"field":"y","type":"quantitative","scale":{"domain":[0,100],"nice":false,"zero":false,"reverse":true},"axis":null},
                   "text":{"field":"id"}}},
     {"data": {"values": [{"type":"eqtl","y":73.7},{"type":"tfsnp","y":79.88},{"type":"tf","y":85.86},{"type":"gene","y":91.83}]},
      "mark": {"type":"circle","size":45,"opacity":1},
      "encoding": {"x":{"datum":-15.74,"scale":{"domain":[0,100],"nice":false,"zero":false},"axis":null},
                   "y":{"field":"y","type":"quantitative","scale":{"domain":[0,100],"nice":false,"zero":false,"reverse":true},"axis":null},
                   "fill":{"field":"type","type":"nominal","scale":{"domain":["eqtl","tfsnp","tf","gene"],"range":["#F8A09C","#C8C8C8","#0A6836","#C466F2"]},"legend":null}}},
     {"data": {"values": [{"k":"ld","y":73.7},{"k":"eqtl","y":79.88},{"k":"tfbs","y":85.86},{"k":"tf","y":91.83}]},
      "mark": {"type":"rule","strokeWidth":1.1},
      "encoding": {"x":{"datum":37.28,"scale":{"domain":[0,100],"nice":false,"zero":false},"axis":null},"x2":{"datum":43.84},
                   "y":{"field":"y","type":"quantitative","scale":{"domain":[0,100],"nice":false,"zero":false,"reverse":true},"axis":null},
                   "stroke":{"field":"k","type":"nominal","scale":{"domain":["ld","eqtl","tfbs","tf"],"range":["#8C8C8C","#F4A3A3","#238B4E","#333333"]},"legend":null},
                   "strokeDash":{"field":"k","type":"nominal","scale":{"domain":["ld","eqtl","tfbs","tf"],"range":[[4,3],[1,0],[1,0],[1,0]]},"legend":null}}},
     {"data": {"values": [
        {"t":"associated eQTL SNPs","x":-3.6,"y":73.7},{"t":"TF binding disrupting SNPs","x":-12.46,"y":79.88},{"t":"TFs","x":-12.46,"y":85.86},{"t":"Target gene","x":-12.46,"y":91.83},
        {"t":"LD > 0.8","x":45.48,"y":73.7},{"t":"eQTL associations (","x":45.48,"y":79.88},{"t":"< 0.05)","x":80.0,"y":79.88},{"t":"SNPs locating at TF binding sites","x":45.48,"y":85.86},{"t":"TFs binding to both enhancer and","x":45.48,"y":91.83},{"t":"promoter of","x":46.56,"y":96.93}]},
      "mark": {"type":"text","align":"left","baseline":"middle","fontSize":10.8,"color":"#111"},
      "encoding": {"x":{"field":"x","type":"quantitative","scale":{"domain":[0,100],"nice":false,"zero":false},"axis":null},
                   "y":{"field":"y","type":"quantitative","scale":{"domain":[0,100],"nice":false,"zero":false,"reverse":true},"axis":null},
                   "text":{"field":"t"}}},
     {"data": {"values": [{"t":"IRS2","x":-12.46,"y":73.7},{"t":"P","x":76.6,"y":79.88},{"t":"IRS2","x":65.6,"y":96.93}]},
      "mark": {"type":"text","align":"left","baseline":"middle","fontSize":10.8,"fontStyle":"italic","color":"#111"},
      "encoding": {"x":{"field":"x","type":"quantitative","scale":{"domain":[0,100],"nice":false,"zero":false},"axis":null},
                   "y":{"field":"y","type":"quantitative","scale":{"domain":[0,100],"nice":false,"zero":false,"reverse":true},"axis":null},
                   "text":{"field":"t"}}},
     {"data": {"values": [{"t":"B","x":-10.6,"y":0.5},{"t":"A","x":-118.4,"y":-116.3}]},
      "mark": {"type":"text","align":"center","baseline":"middle","fontSize":15,"fontWeight":"bold","color":"#000"},
      "encoding": {"x":{"field":"x","type":"quantitative","scale":{"domain":[0,100],"nice":false,"zero":false},"axis":null},
                   "y":{"field":"y","type":"quantitative","scale":{"domain":[0,100],"nice":false,"zero":false,"reverse":true},"axis":null},
                   "text":{"field":"t"}}}
    ]
   }
  ],
  "spacing": 56, "bounds": "flush",
  "resolve": {"scale": {"color": "independent"}}
 }
],
"spacing": 319,
"bounds": "flush",
"resolve": {"scale": {"color": "independent"}}
}
